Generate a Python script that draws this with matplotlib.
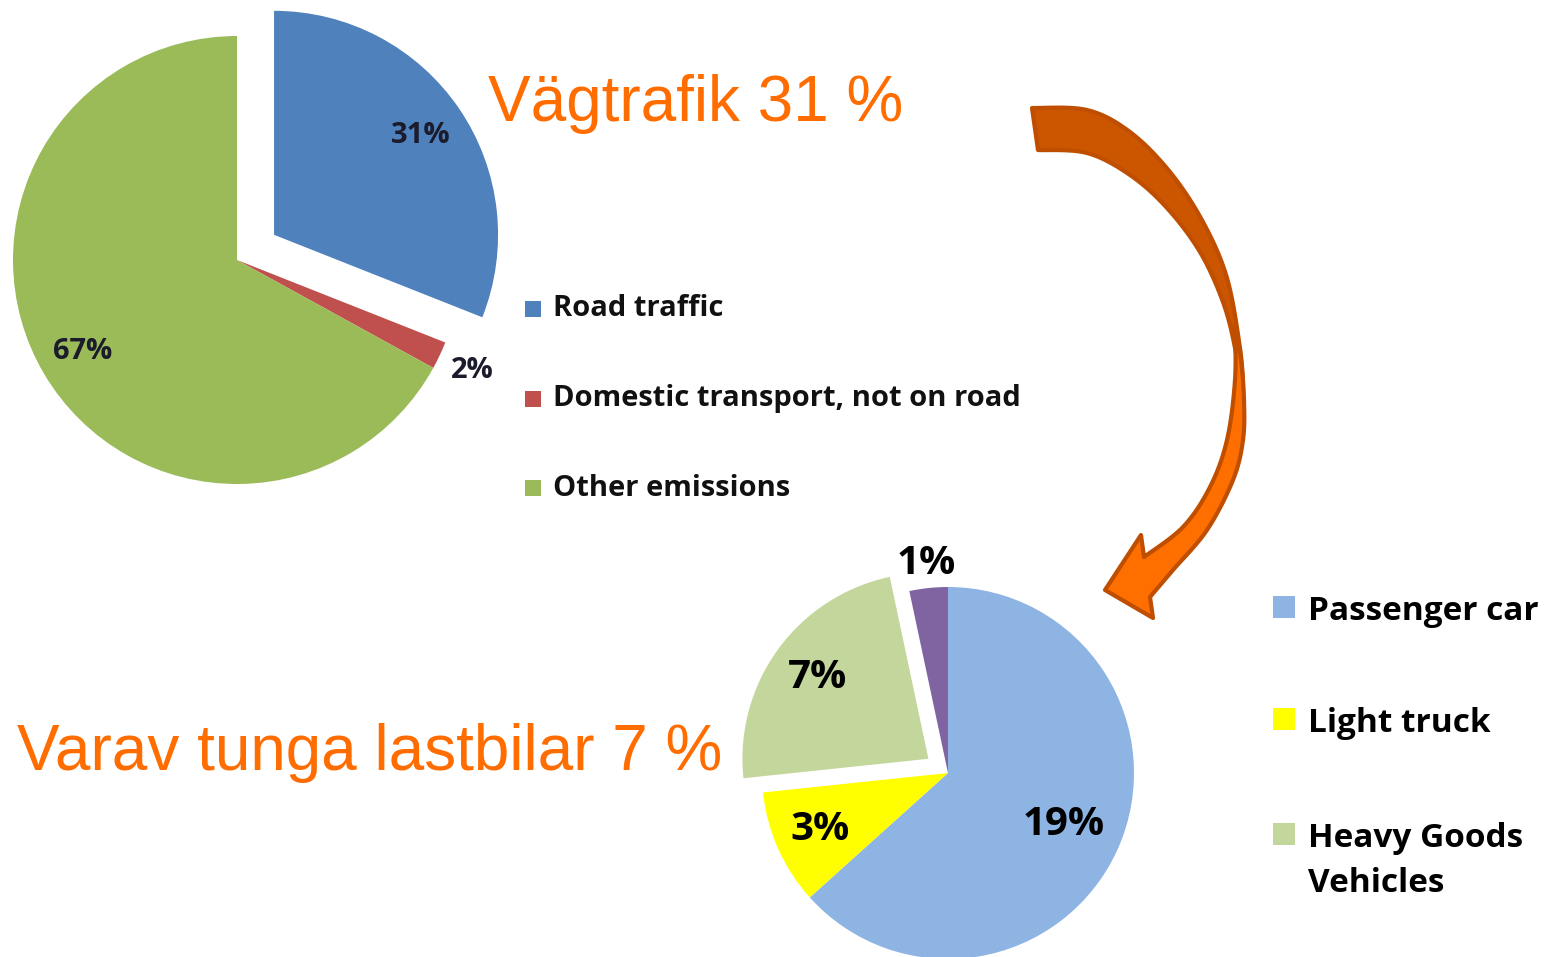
import numpy as np
from matplotlib import pyplot as plt
from matplotlib.patches import Polygon, Rectangle

# data: share of emissions
top_names = ["Road traffic", "Domestic transport, not on road", "Other emissions"]
top_values = [31, 2, 67]
top_colors = ["#4F81BD", "#C0504D", "#9BBB59"]

bottom_names = ["Passenger car", "Light truck", "Heavy Goods\nVehicles", "Buses"]
bottom_values = [19, 3, 7, 1]
bottom_colors = ["#8EB4E3", "#FFFF00", "#C3D69B", "#8064A2"]
bottom_in_legend = 3

title_top = "Vägtrafik 31 %"
title_bottom = "Varav tunga lastbilar 7 %"
orange = "#FF6C00"

W, H = 1557, 957

def Y(y):
    # picture rows -> axes coords (y up)
    return H - y

def smooth(pts, n=14):
    pts = np.asarray(pts, float)
    p = np.vstack([pts[0], pts, pts[-1]])
    out = []
    t = np.linspace(0, 1, n, endpoint=False)[:, None]
    for i in range(1, len(p) - 2):
        p0, p1, p2, p3 = p[i-1], p[i], p[i+1], p[i+2]
        out.append(0.5*((2*p1) + (-p0+p2)*t + (2*p0-5*p1+4*p2-p3)*t**2
                        + (-p0+3*p1-3*p2+p3)*t**3))
    out.append(pts[-1:])
    return np.vstack(out)

fig = plt.figure(figsize=(W/100, H/100), dpi=100)
ax = fig.add_axes([0, 0, 1, 1])

def draw_pie(values, colors, center, radius, explode, dists, fsize, tcolor):
    # pie's explode is in data units, so scale the fractions by the radius
    wedges, _ = ax.pie(values, colors=colors, center=center, radius=radius,
                       explode=[e*radius for e in explode], startangle=90,
                       counterclock=False, wedgeprops=dict(linewidth=0),
                       frame=True)
    for w, v, d in zip(wedges, values, dists):
        mid = np.deg2rad((w.theta1 + w.theta2) / 2)
        cx, cy = w.center
        ax.text(cx + d*w.r*np.cos(mid), cy + d*w.r*np.sin(mid), f"{v}%",
                ha="center", va="center", fontsize=fsize, fontweight="bold",
                family="Open Sans", color=tcolor)
    return wedges

draw_pie(top_values, top_colors, (237, Y(260)), 224, [0.2, 0, 0],
         [0.79, 1.16, 0.8], 21, "#1b1b2b")
draw_pie(bottom_values, bottom_colors, (948, Y(773)), 186, [0, 0, 0.13, 0],
         [0.68, 0.75, 0.74, 1.13], 29, "#000000")
ax.set_xlim(0, W); ax.set_ylim(0, H)
ax.set_aspect("equal")
ax.axis("off")

# legends
for i, (name, col) in enumerate(zip(top_names, top_colors)):
    yc = Y(309 + i*89.5)
    ax.add_patch(Rectangle((525, yc - 8), 16, 16, color=col, lw=0))
    ax.text(553, yc, name, ha="left", va="center", fontsize=21,
            fontweight="bold", family="Open Sans", color="#111111")

rows = [607, 719, 834]
for i in range(bottom_in_legend):
    yc = Y(rows[i])
    ax.add_patch(Rectangle((1273, yc - 11), 22, 22, color=bottom_colors[i], lw=0))
    ax.text(1308, yc + 12, bottom_names[i], ha="left", va="top", fontsize=24,
            fontweight="bold", family="Open Sans", color="#000000",
            linespacing=1.5)

# titles
ax.text(488, Y(121), title_top, ha="left", va="baseline", fontsize=46,
        family="Liberation Sans", color=orange)
ax.text(17, Y(770), title_bottom, ha="left", va="baseline", fontsize=46,
        family="Liberation Sans", color=orange)

# curved arrow
dark_outer = [(1032, 108), (1087, 110), (1130, 132), (1170, 172), (1203, 222),
              (1227, 278), (1240, 348), (1243, 385)]
dark_inner = [(1239, 385), (1235, 348), (1223, 302), (1200, 252), (1167, 208),
              (1130, 175), (1087, 153), (1038, 150)]
dark = np.vstack([smooth(dark_outer), smooth(dark_inner)])
dark[:, 1] = H - dark[:, 1]
ax.add_patch(Polygon(dark, closed=True, fc="#CC5500", ec="#BF4E00", lw=3,
                     joinstyle="round"))

bright_outer = [(1235, 325), (1241, 360), (1244, 400), (1243, 440), (1233, 480),
                (1207, 530), (1173, 570), (1150, 597)]
head = [(1153, 618), (1105, 590), (1141, 535), (1144, 557)]
bright_inner = [(1144, 557), (1183, 527), (1210, 487), (1227, 440), (1235, 380),
                (1235, 325)]
bright = np.vstack([smooth(bright_outer), np.array(head), smooth(bright_inner)])
bright[:, 1] = H - bright[:, 1]
ax.add_patch(Polygon(bright, closed=True, fc="#FF6F00", ec="#BF4E00", lw=3,
                     joinstyle="round"))

fig.savefig("out.png", dpi=100, facecolor="white")
